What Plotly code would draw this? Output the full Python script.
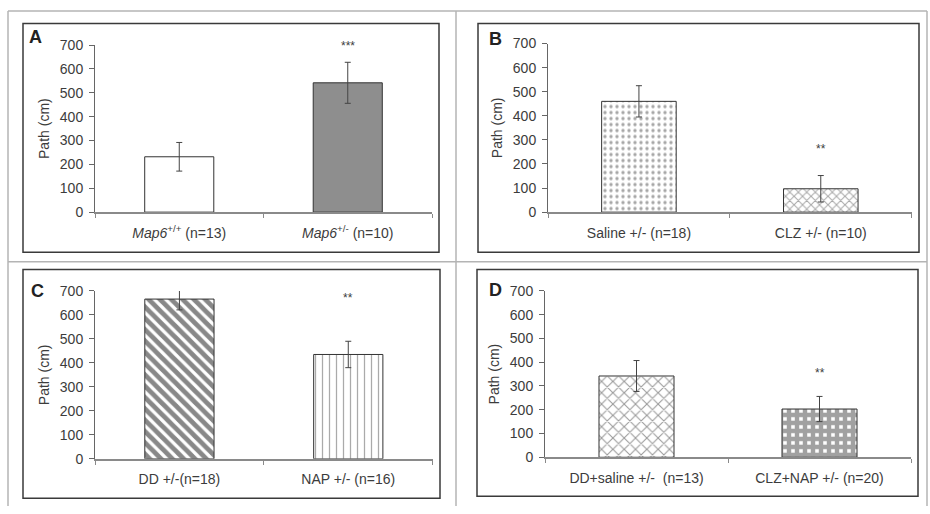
import plotly.graph_objects as go

W, H = 930, 514

# ---- data ----
labels_A = ["<i>Map6</i><sup>+/+</sup> (n=13)", "<i>Map6</i><sup>+/-</sup> (n=10)"]
values_A = [232, 542]
errors_A = [60, 86]

labels_B = ["Saline +/- (n=18)", "CLZ +/- (n=10)"]
values_B = [460, 97]
errors_B = [65, 55]

labels_C = ["DD +/-(n=18)", "NAP +/- (n=16)"]
values_C = [666, 435]
errors_C = [45, 55]

labels_D = ["DD+saline +/-  (n=13)", "CLZ+NAP +/- (n=20)"]
values_D = [342, 203]
errors_D = [65, 53]

sig_text = ["***", "**", "**", "**"]
sig_y = [697, 264, 669, 356]

panel_letters = ["A", "B", "C", "D"]
y_ticks = [0, 100, 200, 300, 400, 500, 600, 700]

# ---- styling ----
FONT = "Liberation Sans, Arial, sans-serif"
TXT = "#3c3c3c"
EDGE = "#333333"


def X(px):
    return px / W


def Y(py):
    return 1 - py / H


panels = [
    dict(labels=labels_A, values=values_A, errors=errors_A,
         dom_x=(95, 432), dom_y=(210.7, 38.3),
         styles=[dict(color="white"), dict(color="#8e8e8e")],
         letter_pos=(35, 30)),
    dict(labels=labels_B, values=values_B, errors=errors_B,
         dom_x=(548, 911.7), dom_y=(210.7, 36.7),
         styles=[dict(color="white", pattern=dict(shape=".", fgcolor="#505050", size=6, solidity=0.25)),
                 dict(color="white", pattern=dict(shape="x", fgcolor="#505050", size=6, solidity=0.3))],
         letter_pos=(495, 32)),
    dict(labels=labels_C, values=values_C, errors=errors_C,
         dom_x=(95, 432.7), dom_y=(465.3, 292),
         styles=[dict(color="white", pattern=dict(shape="\\", fgcolor="#111111", size=8, solidity=0.6)),
                 dict(color="white", pattern=dict(shape="|", fgcolor="#555555", size=7, solidity=0.18))],
         letter_pos=(37, 292)),
    dict(labels=labels_D, values=values_D, errors=errors_D,
         dom_x=(545, 911), dom_y=(463.7, 292),
         styles=[dict(color="white", pattern=dict(shape="x", fgcolor="#333333", size=8, solidity=0.25)),
                 dict(color="white", pattern=dict(shape="+", fgcolor="#444444", size=8, solidity=0.8))],
         letter_pos=(495, 291)),
]

fig = go.Figure()
layout = dict(
    width=W, height=H,
    margin=dict(l=0, r=0, t=0, b=0),
    paper_bgcolor="white", plot_bgcolor="white",
    showlegend=False,
    font=dict(family=FONT, color=TXT, size=14),
    annotations=[], shapes=[],
)

for i, p in enumerate(panels):
    n = "" if i == 0 else str(i + 1)
    xa, ya = "x" + n, "y" + n
    for j in range(2):
        st = p["styles"][j]
        marker = dict(color=st["color"], line=dict(color=EDGE, width=1))
        if "pattern" in st:
            marker["pattern"] = st["pattern"]
        fig.add_trace(go.Bar(
            x=[j], y=[p["values"][j]], width=0.41,
            marker=marker,
            error_y=dict(type="data", array=[p["errors"][j]], color="#444444",
                         thickness=1, width=3),
            xaxis=xa, yaxis=ya, hoverinfo="skip",
        ))
    layout["xaxis" + n] = dict(
        domain=[X(p["dom_x"][0]), X(p["dom_x"][1])],
        anchor=ya, range=[-0.5, 1.5],
        tickmode="array", tickvals=[0, 1], ticktext=p["labels"],
        ticks="", showline=True, linecolor="#8a8a8a", linewidth=1.5,
        showgrid=False, zeroline=False, fixedrange=True,
        tickfont=dict(size=14, color=TXT), ticklabelstandoff=7,
        minor=dict(tickmode="array", tickvals=[-0.5, 0.5, 1.5], ticks="outside",
                   ticklen=4, tickcolor="#8a8a8a", tickwidth=1, showgrid=False),
    )
    layout["yaxis" + n] = dict(
        domain=[Y(p["dom_y"][0]), Y(p["dom_y"][1])],
        anchor=xa, range=[0, 700],
        tickmode="array", tickvals=y_ticks,
        ticks="outside", ticklen=5, tickcolor="#666666", tickwidth=1,
        showline=True, linecolor="#666666", linewidth=1,
        showgrid=False, zeroline=False, fixedrange=True,
        tickfont=dict(size=14, color=TXT), ticklabelstandoff=3,
        title=dict(text="Path (cm)", font=dict(size=14, color=TXT), standoff=6),
    )
    layout["annotations"].append(dict(
        x=1, y=sig_y[i], xref=xa, yref=ya, text=sig_text[i], showarrow=False,
        font=dict(size=12, color=TXT), xanchor="center", yanchor="middle"))
    lx, ly = p["letter_pos"]
    layout["annotations"].append(dict(
        x=X(lx), y=Y(ly), xref="paper", yref="paper", text="<b>%s</b>" % panel_letters[i],
        showarrow=False, font=dict(size=18, color="#222222"),
        xanchor="center", yanchor="middle"))

# outer grid (light gray)
grid = "#b4b4b4"
for x0, y0, x1, y1 in [(8, 3, 927, 3), (8, 3, 8, 514), (927, 3, 927, 514),
                       (456, 3, 456, 514), (8, 262, 927, 262)]:
    layout["shapes"].append(dict(type="line", xref="paper", yref="paper",
                                 x0=X(x0), y0=Y(y0), x1=X(x1), y1=Y(y1),
                                 line=dict(color=grid, width=1.5), layer="below"))
# inner panel boxes
for x0, y0, x1, y1 in [(23, 16, 439, 252), (478, 16, 919, 252),
                       (23, 270, 440, 506), (477, 270, 918, 504)]:
    layout["shapes"].append(dict(type="rect", xref="paper", yref="paper",
                                 x0=X(x0), y0=Y(y0), x1=X(x1), y1=Y(y1),
                                 line=dict(color="#3a3a3a", width=1.5), layer="below"))

fig.update_layout(**layout)
fig.write_html("out.html")
